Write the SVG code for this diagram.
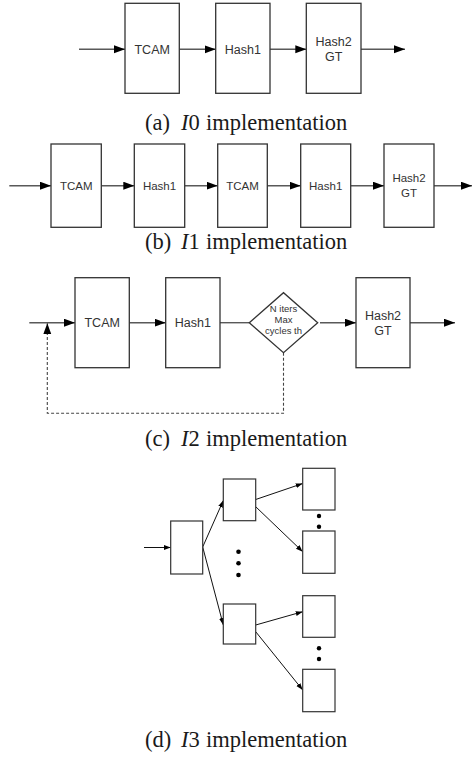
<svg xmlns="http://www.w3.org/2000/svg" width="472" height="758" viewBox="0 0 472 758">
  <style>
    .box { fill: #ffffff; stroke: #333333; stroke-width: 1.3; }
    .lbl { font-family: "Liberation Sans", Arial, sans-serif; fill: #333333; text-anchor: middle; }
    .l12 { font-size: 12.5px; }
    .l11 { font-size: 11.5px; }
    .l9 { font-size: 9.5px; }
    .flow { fill: none; stroke: #595959; stroke-width: 1.4; }
    .big { marker-end: url(#headBig); }
    .dash { fill: none; stroke: #444444; stroke-width: 1.1; stroke-dasharray: 3 2; marker-end: url(#headBig); }
    .thin { fill: none; stroke: #111111; stroke-width: 1; marker-end: url(#headSmall); }
    .sbox { fill: #ffffff; stroke: #333333; stroke-width: 1.2; }
    .cap { font-family: "Liberation Serif", "Times New Roman", serif; font-size: 22.5px; fill: #1a1a1a; }
    .it { font-style: italic; }
    .dot { fill: #000000; }
  </style>
  <defs>
    <marker id="headBig" markerUnits="userSpaceOnUse" markerWidth="12" markerHeight="9" refX="11" refY="4" orient="auto">
      <path d="M0,0 L11,4 L0,8 z" fill="#000000"/>
    </marker>
    <marker id="headSmall" markerUnits="userSpaceOnUse" markerWidth="8" markerHeight="6" refX="7" refY="2.5" orient="auto">
      <path d="M0,0 L7,2.5 L0,5 z" fill="#000000"/>
    </marker>
  </defs>

  <!-- (a) single pass pipeline -->
  <g id="a-connectors">
    <line class="flow big" x1="79" y1="49.3" x2="125" y2="49.3"/>
    <line class="flow big" x1="179.3" y1="49.3" x2="215.7" y2="49.3"/>
    <line class="flow big" x1="270" y1="49.3" x2="306.3" y2="49.3"/>
    <line class="flow big" x1="361" y1="49.3" x2="405" y2="49.3"/>
  </g>
  <g id="a-tcam">
    <rect class="box" x="125" y="3.3" width="54.3" height="90"/>
    <text class="lbl l12" x="152.2" y="53.8">TCAM</text>
  </g>
  <g id="a-hash1">
    <rect class="box" x="215.7" y="3.3" width="54.3" height="90"/>
    <text class="lbl l12" x="242.8" y="53.8">Hash1</text>
  </g>
  <g id="a-hash2">
    <rect class="box" x="306.3" y="3.3" width="54.7" height="90"/>
    <text class="lbl l12" x="333.6" y="46">Hash2</text>
    <text class="lbl l12" x="333.6" y="61">GT</text>
  </g>
  <text class="cap" x="145" y="130">(a) <tspan x="181" class="it">I</tspan>0 <tspan x="206">implementation</tspan></text>

  <!-- (b) two stages unrolled -->
  <g id="b-connectors">
    <line class="flow big" x1="9.3" y1="185.7" x2="51" y2="185.7"/>
    <line class="flow big" x1="101.3" y1="185.7" x2="134.3" y2="185.7"/>
    <line class="flow big" x1="184.7" y1="185.7" x2="217.7" y2="185.7"/>
    <line class="flow big" x1="267.3" y1="185.7" x2="300.7" y2="185.7"/>
    <line class="flow big" x1="350.7" y1="185.7" x2="384" y2="185.7"/>
    <line class="flow big" x1="434" y1="185.7" x2="472" y2="185.7"/>
  </g>
  <g id="b-tcam1">
    <rect class="box" x="51" y="144" width="50.3" height="83.3"/>
    <text class="lbl l11" x="76.2" y="189.8">TCAM</text>
  </g>
  <g id="b-hash1a">
    <rect class="box" x="134.3" y="144" width="50.4" height="83.3"/>
    <text class="lbl l11" x="159.5" y="189.8">Hash1</text>
  </g>
  <g id="b-tcam2">
    <rect class="box" x="217.7" y="144" width="49.6" height="83.3"/>
    <text class="lbl l11" x="242.5" y="189.8">TCAM</text>
  </g>
  <g id="b-hash1b">
    <rect class="box" x="300.7" y="144" width="50" height="83.3"/>
    <text class="lbl l11" x="325.7" y="189.8">Hash1</text>
  </g>
  <g id="b-hash2">
    <rect class="box" x="384" y="144" width="50" height="83.3"/>
    <text class="lbl l11" x="409" y="181.5">Hash2</text>
    <text class="lbl l11" x="409" y="196.5">GT</text>
  </g>
  <text class="cap" x="145" y="249">(b) <tspan x="181" class="it">I</tspan>1 <tspan x="206">implementation</tspan></text>

  <!-- (c) loop with iteration check -->
  <g id="c-connectors">
    <line class="flow big" x1="29.3" y1="322.7" x2="75" y2="322.7"/>
    <line class="flow big" x1="129.3" y1="322.7" x2="165.7" y2="322.7"/>
    <line class="flow" x1="220" y1="322.7" x2="249.3" y2="322.7"/>
    <line class="flow big" x1="320" y1="322.7" x2="356" y2="322.7"/>
    <line class="flow big" x1="410" y1="322.7" x2="455" y2="322.7"/>
    <path class="dash" d="M283.5,352.7 V413.3 H47.3 V323.2"/>
  </g>
  <g id="c-tcam">
    <rect class="box" x="75" y="277.7" width="54.3" height="90"/>
    <text class="lbl l12" x="102.2" y="327.2">TCAM</text>
  </g>
  <g id="c-hash1">
    <rect class="box" x="165.7" y="277.7" width="54.3" height="90"/>
    <text class="lbl l12" x="192.8" y="327.2">Hash1</text>
  </g>
  <g id="c-check">
    <polygon class="box" points="249.3,322.7 283.5,292.7 317.7,322.7 283.5,352.7"/>
    <text class="lbl l9" x="283.5" y="311.5">N iters</text>
    <text class="lbl l9" x="283.5" y="322.7">Max</text>
    <text class="lbl l9" x="283.5" y="334.2">cycles th</text>
  </g>
  <g id="c-hash2">
    <rect class="box" x="356" y="277.7" width="54" height="90"/>
    <text class="lbl l12" x="383" y="319.5">Hash2</text>
    <text class="lbl l12" x="383" y="334.5">GT</text>
  </g>
  <text class="cap" x="145" y="446">(c) <tspan x="181" class="it">I</tspan>2 <tspan x="206">implementation</tspan></text>

  <!-- (d) tree of tables -->
  <g id="d-connectors">
    <line class="thin" x1="144" y1="547.5" x2="170.7" y2="547.5"/>
    <line class="thin" x1="202.7" y1="547" x2="223.3" y2="500.5"/>
    <line class="thin" x1="202.7" y1="547" x2="223.3" y2="625"/>
    <line class="thin" x1="255.7" y1="499.5" x2="302.7" y2="483.5"/>
    <line class="thin" x1="255.7" y1="506.7" x2="302.7" y2="551.7"/>
    <line class="thin" x1="255.7" y1="625" x2="302.7" y2="611.7"/>
    <line class="thin" x1="255.7" y1="631.7" x2="302.7" y2="690"/>
  </g>
  <g id="d-root">
    <rect class="sbox" x="170.7" y="521" width="32" height="53"/>
  </g>
  <g id="d-mid-top">
    <rect class="sbox" x="223.3" y="479" width="32.4" height="41.7"/>
  </g>
  <g id="d-mid-bottom">
    <rect class="sbox" x="223.3" y="604" width="32.4" height="40"/>
  </g>
  <g id="d-leaf1">
    <rect class="sbox" x="302.7" y="468.3" width="32.3" height="41.7"/>
  </g>
  <g id="d-leaf2">
    <rect class="sbox" x="302.7" y="531" width="32.3" height="42.3"/>
  </g>
  <g id="d-leaf3">
    <rect class="sbox" x="302.7" y="595.7" width="32.3" height="41.6"/>
  </g>
  <g id="d-leaf4">
    <rect class="sbox" x="302.7" y="669.3" width="32.3" height="42.4"/>
  </g>
  <g id="d-ellipsis">
    <circle class="dot" cx="238.5" cy="551.7" r="2.3"/>
    <circle class="dot" cx="238.5" cy="563.3" r="2.3"/>
    <circle class="dot" cx="238.5" cy="575" r="2.3"/>
    <circle class="dot" cx="319" cy="516" r="2.2"/>
    <circle class="dot" cx="319" cy="526.7" r="2.2"/>
    <circle class="dot" cx="319" cy="648.3" r="2.2"/>
    <circle class="dot" cx="319" cy="659" r="2.2"/>
  </g>
  <text class="cap" x="145" y="747">(d) <tspan x="181" class="it">I</tspan>3 <tspan x="206">implementation</tspan></text>
</svg>
